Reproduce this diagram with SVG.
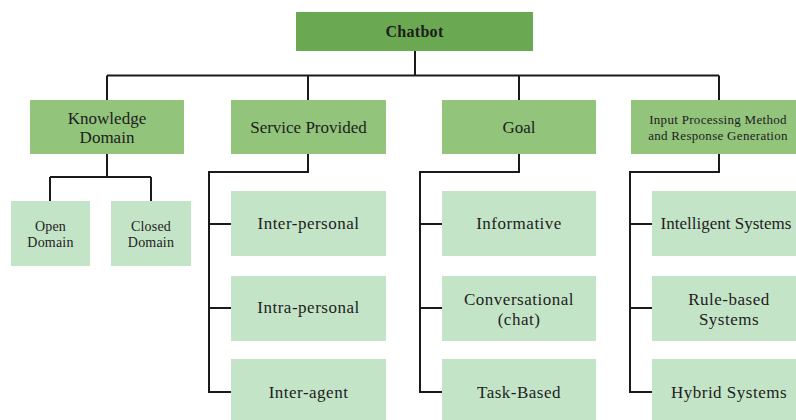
<svg xmlns="http://www.w3.org/2000/svg" width="796" height="420" viewBox="0 0 796 420">
<style>
.root{fill:#6aa951}
.l1{fill:#92c47c}
.leaf{fill:#c4e4c8}
text{font-family:"Liberation Serif","DejaVu Serif",serif;fill:#1d1d1d;text-anchor:middle}
.t{font-size:17px}
.tl{font-size:17px;letter-spacing:0.5px}
.tb{font-size:16px;font-weight:bold;letter-spacing:0.3px}
.ts{font-size:13px;letter-spacing:0.3px}
.tm{font-size:14px;letter-spacing:0.2px}
.c{fill:none;stroke:#1a1a1a;stroke-width:2}
</style>
<rect width="796" height="420" fill="#ffffff"/>
<g id="connectors">
<path class="c" d="M415 51V75.5M107 75.5H719M107 75.5V100M308 75.5V100M519 75.5V100M719 75.5V100"/>
<path class="c" d="M107 154V177M50 177H151M50 177V201M151 177V201"/>
<path class="c" d="M308 154V172H209V392H231M209 224H231M209 308H231"/>
<path class="c" d="M519 154V172H420V392H442M420 224H442M420 308H442"/>
<path class="c" d="M719 154V172H630V392H652M630 224H652M630 308H652"/>
</g>
<g id="chatbot"><rect class="root" x="296" y="12" width="237" height="39"/><text class="tb" x="414.5" y="37">Chatbot</text></g>
<g id="knowledge-domain"><rect class="l1" x="30" y="100" width="154" height="54"/><text class="t" x="107" y="124">Knowledge</text><text class="t" x="107" y="143">Domain</text></g>
<g id="service-provided"><rect class="l1" x="231" y="100" width="155" height="54"/><text class="t" x="308.5" y="133">Service Provided</text></g>
<g id="goal"><rect class="l1" x="442" y="100" width="154" height="54"/><text class="t" x="519" y="133">Goal</text></g>
<g id="input-processing"><rect class="l1" x="631" y="100" width="165" height="54"/><text class="ts" x="718" y="124">Input Processing Method</text><text class="ts" x="718" y="140">and Response Generation</text></g>
<g id="open-domain"><rect class="leaf" x="11" y="201" width="79" height="65"/><text class="tm" x="50.5" y="231">Open</text><text class="tm" x="50.5" y="247">Domain</text></g>
<g id="closed-domain"><rect class="leaf" x="111" y="201" width="80" height="65"/><text class="tm" x="151" y="231">Closed</text><text class="tm" x="151" y="247">Domain</text></g>
<g id="inter-personal"><rect class="leaf" x="231" y="191" width="155" height="65"/><text class="tl" x="308.5" y="229">Inter-personal</text></g>
<g id="intra-personal"><rect class="leaf" x="231" y="276" width="155" height="65"/><text class="tl" x="308.5" y="313">Intra-personal</text></g>
<g id="inter-agent"><rect class="leaf" x="231" y="359" width="155" height="61"/><text class="tl" x="308.5" y="398">Inter-agent</text></g>
<g id="informative"><rect class="leaf" x="442" y="191" width="154" height="65"/><text class="tl" x="519" y="229">Informative</text></g>
<g id="conversational"><rect class="leaf" x="442" y="276" width="154" height="65"/><text class="tl" x="519" y="305">Conversational</text><text class="tl" x="519" y="325">(chat)</text></g>
<g id="task-based"><rect class="leaf" x="442" y="359" width="154" height="61"/><text class="tl" x="519" y="398">Task-Based</text></g>
<g id="intelligent-systems"><rect class="leaf" x="652" y="191" width="144" height="65"/><text class="t" x="726" y="229">Intelligent Systems</text></g>
<g id="rule-based"><rect class="leaf" x="652" y="276" width="144" height="65"/><text class="tl" x="729" y="305">Rule-based</text><text class="tl" x="729" y="325">Systems</text></g>
<g id="hybrid-systems"><rect class="leaf" x="652" y="359" width="144" height="61"/><text class="tl" x="729" y="398">Hybrid Systems</text></g>
</svg>
